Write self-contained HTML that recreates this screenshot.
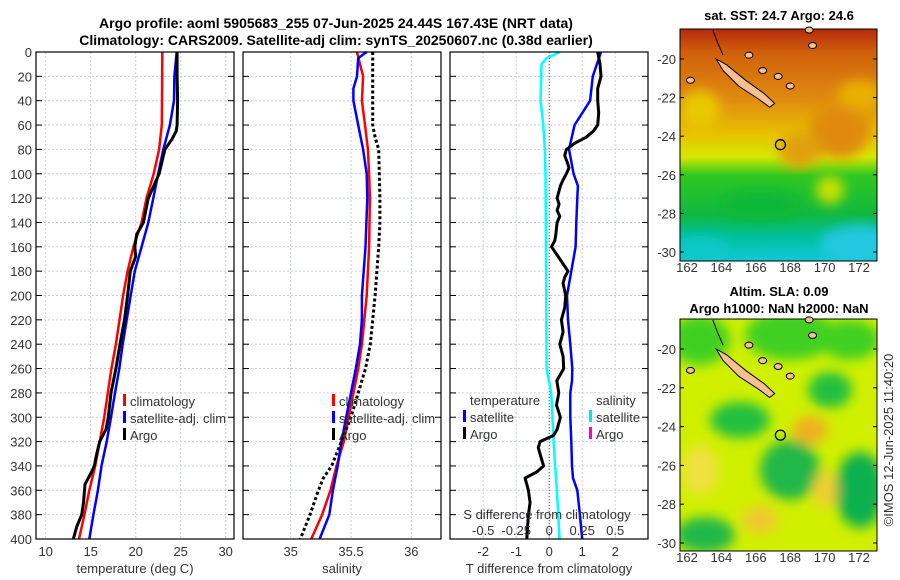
<!DOCTYPE html>
<html><head><meta charset="utf-8">
<style>
html,body{margin:0;padding:0;background:#fff;}
svg{display:block;font-family:"Liberation Sans","DejaVu Sans",sans-serif;}
.tk{font-size:13px;fill:#333;}
.ttl{font-size:14px;font-weight:bold;fill:#000;}
</style></head>
<body>
<svg id="fig" width="900" height="580" viewBox="0 0 900 580" xmlns="http://www.w3.org/2000/svg">
<defs>
<filter id="blur" x="-20%" y="-20%" width="140%" height="140%"><feGaussianBlur stdDeviation="6"/></filter>
<clipPath id="clipTop"><rect x="680" y="29" width="197" height="232"/></clipPath>
<clipPath id="clipBot"><rect x="680" y="319" width="197" height="232"/></clipPath>
<linearGradient id="sstGrad" x1="0" y1="0" x2="0" y2="1">
<stop offset="0" stop-color="#b52a0c"/>
<stop offset="0.1" stop-color="#d0600c"/>
<stop offset="0.3" stop-color="#e08a10"/>
<stop offset="0.45" stop-color="#e8c000"/>
<stop offset="0.55" stop-color="#d8e800"/>
<stop offset="0.63" stop-color="#30c820"/>
<stop offset="0.8" stop-color="#10b840"/>
<stop offset="0.9" stop-color="#00c0a0"/>
<stop offset="1" stop-color="#10c8d8"/>
</linearGradient>
</defs>
<g>
<text class="ttl" x="336" y="28" text-anchor="middle">Argo profile: aoml 5905683_255 07-Jun-2025 24.44S 167.43E (NRT data)</text>
<text class="ttl" x="336" y="45" text-anchor="middle">Climatology: CARS2009. Satellite-adj clim: synTS_20250607.nc (0.38d earlier)</text>
</g>
<g id="charts"></g>

<g>
<text class="ttl" x="779" y="20" text-anchor="middle" style="font-size:13px">sat. SST: 24.7 Argo: 24.6</text>
<g clip-path="url(#clipTop)">
<rect x="680" y="29" width="197" height="232" fill="url(#sstGrad)"/>
<g filter="url(#blur)">
<ellipse cx="840" cy="130" rx="30" ry="28" fill="#e08a10"/>
<ellipse cx="800" cy="150" rx="22" ry="18" fill="#e0a010"/>
<ellipse cx="860" cy="95" rx="22" ry="15" fill="#e8b000"/>
<ellipse cx="700" cy="110" rx="20" ry="20" fill="#e8c800"/>
<ellipse cx="830" cy="190" rx="14" ry="14" fill="#c8e000"/>
<ellipse cx="860" cy="245" rx="40" ry="20" fill="#20c8e0"/>
<ellipse cx="700" cy="250" rx="30" ry="14" fill="#10c8c8"/>
<ellipse cx="760" cy="205" rx="40" ry="15" fill="#10b838"/>
</g>
</g>
<rect x="680" y="29" width="197" height="232" fill="none" stroke="#000" stroke-width="1"/>
</g>

<g>
<text class="ttl" x="779" y="296" text-anchor="middle" style="font-size:13px">Altim. SLA: 0.09</text>
<text class="ttl" x="779" y="313" text-anchor="middle" style="font-size:13px">Argo h1000: NaN h2000: NaN</text>
<g clip-path="url(#clipBot)">
<rect x="680" y="319" width="197" height="232" fill="#d0f000"/>
<g filter="url(#blur)">
<ellipse cx="700" cy="340" rx="30" ry="25" fill="#40d020"/>
<ellipse cx="790" cy="335" rx="45" ry="25" fill="#40d020"/>
<ellipse cx="850" cy="340" rx="30" ry="20" fill="#40d020"/>
<ellipse cx="740" cy="420" rx="30" ry="18" fill="#20c040"/>
<ellipse cx="830" cy="390" rx="22" ry="18" fill="#20c040"/>
<ellipse cx="790" cy="470" rx="30" ry="30" fill="#20b848"/>
<ellipse cx="860" cy="490" rx="25" ry="38" fill="#10b050"/>
<ellipse cx="705" cy="535" rx="30" ry="18" fill="#20b848"/>
<ellipse cx="810" cy="430" rx="18" ry="14" fill="#f0b020"/>
<ellipse cx="700" cy="470" rx="18" ry="25" fill="#f0e040"/>
<ellipse cx="760" cy="520" rx="18" ry="14" fill="#f0c830"/>
<ellipse cx="825" cy="490" rx="12" ry="18" fill="#f0d030"/>
</g>
</g>
<rect x="680" y="319" width="197" height="232" fill="none" stroke="#000" stroke-width="1"/>
</g>

<text class="tk" transform="translate(893,440) rotate(-90)" text-anchor="middle">©IMOS 12-Jun-2025 11:40:20</text>
</svg>
<script>
// ---------- data ----------
var tickDepth=[0,20,40,60,80,100,120,140,160,180,200,220,240,260,280,300,320,340,360,380,400];
var tempTicks=[10,15,20,25,30];
var salTicks=[35,35.5,36];
var salTickLabels=["35","35.5","36"];
var dTTicks=[-2,-1,0,1,2];
var dSTicks=[-0.5,-0.25,0,0.25,0.5];
var dSTickLabels=["-0.5","-0.25","0","0.25","0.5"];

var climTdepth=[0,60,80,100,120,140,160,180,200,220,240,260,280,300,320,340,360,380,400];
var climT=[22.96,22.9,22.6,22.0,21.2,20.66,19.74,19.1,18.6,18.2,17.8,17.3,16.9,16.5,16.0,15.5,14.85,14.3,13.7];
var satTdepth=[0,20,40,60,80,100,120,140,160,180,200,220,240,260,280,300,320,340,360,380,400];
var satT=[24.55,24.3,24.26,23.8,23.07,22.5,21.96,21.4,20.66,19.9,19.44,19.0,18.55,18.18,17.7,17.26,16.78,16.2,15.8,15.3,14.85];
var argoTdepth=[0,20,40,60,65,72,80,100,120,140,150,160,168,180,200,220,240,260,280,300,310,320,330,340,345,355,370,380,390,400];
var argoT=[24.6,24.6,24.65,24.6,24.5,24.0,23.25,22.6,21.4,20.85,20.1,19.9,20.0,19.4,19.1,18.75,18.26,17.8,17.26,16.96,16.7,16.0,15.67,15.4,15.1,14.37,14.2,14.0,13.44,13.07];

var climSdepth=[0,10,20,40,60,80,100,120,160,200,240,260,280,300,320,340,360,380,400];
var climS=[35.55,35.575,35.6,35.59,35.616,35.64,35.65,35.657,35.65,35.63,35.59,35.56,35.52,35.48,35.44,35.38,35.33,35.26,35.17];
var satSdepth=[0,5,20,30,40,60,80,100,120,160,200,220,240,260,280,300,320,340,360,380,400];
var satS=[35.63,35.56,35.55,35.52,35.52,35.56,35.6,35.63,35.635,35.62,35.59,35.59,35.575,35.54,35.5,35.46,35.42,35.39,35.35,35.32,35.24];
var argoSdepth=[0,60,70,80,120,140,160,200,240,260,280,300,320,340,350,360,380,400];
var argoS=[35.68,35.68,35.7,35.73,35.74,35.74,35.73,35.7,35.66,35.62,35.56,35.5,35.42,35.34,35.27,35.23,35.16,35.08];

var dTsatDepth=[0,20,40,60,80,100,110,120,140,160,180,200,220,240,260,270,280,300,320,340,350,360,380,400];
var dTsat=[1.57,1.32,1.24,0.77,0.6,0.74,0.87,0.85,0.82,0.8,0.67,0.54,0.57,0.64,0.7,0.69,0.64,0.64,0.67,0.69,0.72,0.85,0.93,1.0];
var dTargoDepth=[0,10,20,30,40,50,60,65,70,75,80,85,90,95,100,105,110,120,125,130,135,140,150,155,160,170,180,185,190,200,210,220,230,240,250,260,270,280,290,300,310,315,320,325,330,340,345,350,360,370,380,400];
var dTargo=[1.47,1.54,1.57,1.47,1.47,1.5,1.47,1.34,1.12,0.77,0.52,0.47,0.54,0.6,0.52,0.42,0.34,0.24,0.3,0.24,0.32,0.24,0.2,0.17,0.07,0.32,0.57,0.47,0.42,0.5,0.47,0.37,0.42,0.32,0.42,0.44,0.23,0.29,0.22,0.34,0.24,0.13,-0.28,-0.33,-0.28,-0.17,-0.38,-0.73,-0.63,-0.58,-0.63,-0.68];
var dSsatDepth=[0,5,10,40,60,80,100,260,280,300,320,340,360,380,400];
var dSsat=[0.08,-0.02,-0.058,-0.065,-0.045,-0.033,-0.028,-0.02,0.015,0.025,0.033,0.045,0.058,0.068,0.078];

// ---------- axes ----------
var Y0=52, PXD=1.2175, YB=539;
function yD(d){return Y0+PXD*d;}
function xT(t){return 45.7+9*(t-10);}
function xS(s){return 290.7+120.6*(s-35);}
function xdT(v){return 549.2+33*v;}
function xdS(v){return 549.2+132*v;}

var NS="http://www.w3.org/2000/svg";
var root=document.getElementById('charts');
function mk(tag,attrs,parent){var e=document.createElementNS(NS,tag);for(var k in attrs)e.setAttribute(k,attrs[k]);(parent||root).appendChild(e);return e;}
function txt(parent,x,y,s,anchor,cls){var t=mk('text',{x:x,y:y,'text-anchor':anchor||'middle','class':cls||'tk'},parent);t.textContent=s;return t;}

var panels=[
 {name:'temperature-panel',x0:36,x1:234,ticks:tempTicks,labels:tempTicks.map(String),fx:xT,title:'temperature (deg C)'},
 {name:'salinity-panel',x0:243,x1:441,ticks:salTicks,labels:salTickLabels,fx:xS,title:'salinity'},
 {name:'difference-panel',x0:450,x1:648,ticks:dTTicks,labels:dTTicks.map(String),fx:xdT,title:'T difference from climatology'}
];

function line(g,depths,vals,fx,color,w,dash,name){
  var p='';
  for(var i=0;i<depths.length;i++){p+=(i?'L':'M')+fx(vals[i]).toFixed(1)+','+yD(depths[i]).toFixed(1);}
  var el=mk('path',{d:p,fill:'none',stroke:color,'stroke-width':w,'stroke-linejoin':'round'},g);
  if(dash)el.setAttribute('stroke-dasharray',dash);
  
  
  return el;
}
function legend(g,x,y,items){
  items.forEach(function(it,i){
    var r=mk('rect',{x:x,y:y+i*17-7,width:3,height:12,fill:it[1]},g);
    
    
    var t=txt(g,x+7,y+i*17+5,it[0],'start');
    
    
  });
}

var gs=[];
panels.forEach(function(P,pi){
  var g=mk('g',{});
  
  
  gs.push(g);
  tickDepth.forEach(function(d){
    mk('line',{x1:P.x0,x2:P.x1,y1:yD(d),y2:yD(d),stroke:'#c8cde6','stroke-width':1,'stroke-dasharray':'2,2'},g);
    mk('line',{x1:P.x0,x2:P.x0+6,y1:yD(d),y2:yD(d),stroke:'#000','stroke-width':1},g);
    mk('line',{x1:P.x1-6,x2:P.x1,y1:yD(d),y2:yD(d),stroke:'#000','stroke-width':1},g);
  });
  P.ticks.forEach(function(t,i){
    var x=P.fx(t);
    mk('line',{x1:x,x2:x,y1:Y0,y2:YB,stroke:'#c8cde6','stroke-width':1,'stroke-dasharray':'2,2'},g);
    var l=txt(g,x,556,P.labels[i]);
    
    
  });
  var at=txt(g,(P.x0+P.x1)/2,573,P.title);
  
  
  if(pi===0){
    tickDepth.forEach(function(d){
      var l=txt(g,32,yD(d)+5,String(d),'end');
      
      
    });
  }
});

line(gs[0],climTdepth,climT,xT,'#ff0000',2.5,null,'climatology-temperature-line');
line(gs[0],satTdepth,satT,xT,'#0000ff',2.5,null,'satellite-temperature-line');
line(gs[0],argoTdepth,argoT,xT,'#000000',3,null,'argo-temperature-line');
legend(gs[0],123,401,[['climatology','#ff0000'],['satellite-adj. clim','#0000ff'],['Argo','#000']]);

line(gs[1],climSdepth,climS,xS,'#ff0000',2.5,null,'climatology-salinity-line');
line(gs[1],satSdepth,satS,xS,'#0000ff',2.5,null,'satellite-salinity-line');
line(gs[1],argoSdepth,argoS,xS,'#000000',3,'3,2.5','argo-salinity-line');
legend(gs[1],332,401,[['climatology','#ff0000'],['satellite-adj. clim','#0000ff'],['Argo','#000']]);

var z=mk('line',{x1:xdT(0),x2:xdT(0),y1:Y0,y2:YB,stroke:'#555','stroke-width':1,'stroke-dasharray':'1,2'},gs[2]);


line(gs[2],dSsatDepth,dSsat,xdS,'#00ffff',2.5,null,'satellite-salinity-diff-line');
line(gs[2],dTsatDepth,dTsat,xdT,'#0000ff',2.5,null,'satellite-temperature-diff-line');
line(gs[2],dTargoDepth,dTargo,xdT,'#000000',3,null,'argo-temperature-diff-line');
txt(gs[2],470,405,'temperature','start');
txt(gs[2],596,405,'salinity','start');
legend(gs[2],463,417,[['satellite','#0000ff'],['Argo','#000']]);
legend(gs[2],589,417,[['satellite','#00e8e8'],['Argo','#ff00cc']]);
var st=txt(gs[2],547,519,'S difference from climatology');


dSTicks.forEach(function(v,i){
  var l=txt(gs[2],xdS(v),535,dSTickLabels[i]);
  
  
});

panels.forEach(function(P,pi){
  var f=mk('rect',{x:P.x0,y:Y0,width:P.x1-P.x0,height:YB-Y0,fill:'none',stroke:'#000','stroke-width':1.2},gs[pi]);
  
  
});

// ---------- maps ----------
var lonTicks=[162,164,166,168,170,172];
var latTicks=[-20,-22,-24,-26,-28,-30];
function xLon(l){return 687+17.2*(l-162);}
function yLatTop(l){return 59+19.3*(-20-l);}
function yLatBot(l){return 349+19.4*(-20-l);}
var fig=document.getElementById('fig');
[[yLatTop,271,'sst'],[yLatBot,561,'sla']].forEach(function(m){
  var g=mk('g',{},fig);
  
  
  var pts=[[163.7,-20.0],[164.3,-20.3],[165.4,-21.1],[166.5,-21.8],[167.1,-22.3],[166.8,-22.5],[166.2,-22.1],[165.0,-21.4],[164.1,-20.6]];
  var d=pts.map(function(p,i){return (i?'L':'M')+xLon(p[0]).toFixed(1)+','+m[0](p[1]).toFixed(1);}).join('')+'Z';
  var isl=mk('path',{d:d,fill:'#f8c090',stroke:'#000','stroke-width':1},g);
  
  
  [[162.2,-21.1],[165.6,-19.8],[167.3,-20.9],[168.0,-21.4],[169.1,-18.5],[169.3,-19.3],[166.4,-20.6]].forEach(function(p){
    var c=mk('ellipse',{cx:xLon(p[0]),cy:m[0](p[1]),rx:4,ry:3,fill:'#f8c090',stroke:'#000','stroke-width':1},g);
    
    
  });
  mk('path',{d:'M'+xLon(163.5)+','+m[0](-18.5)+' L'+xLon(163.8)+','+m[0](-19.2)+' L'+xLon(164.1)+','+m[0](-19.8),fill:'none',stroke:'#000','stroke-width':1},g);
  var ring=mk('circle',{cx:xLon(167.43),cy:m[0](-24.44),r:5,fill:'none',stroke:'#000','stroke-width':1.3},g);
  
  
  lonTicks.forEach(function(l){
    var x=xLon(l);
    var t=txt(g,x,m[1]+1,String(l));
    
    
  });
  latTicks.forEach(function(l){
    var y=m[0](l);
    mk('line',{x1:680,x2:684,y1:y,y2:y,stroke:'#000'},g);
    mk('line',{x1:873,x2:877,y1:y,y2:y,stroke:'#000'},g);
    var t=txt(g,676,y+5,String(l),'end');
    
    
  });
});
</script>
</body></html>
